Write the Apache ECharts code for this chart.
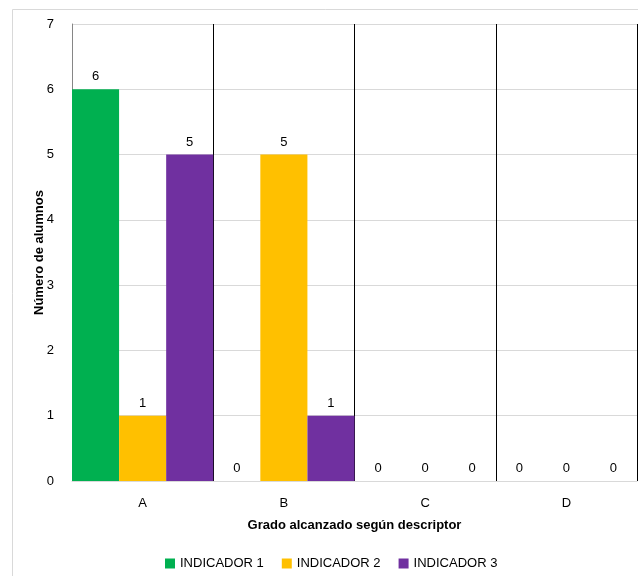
<!DOCTYPE html>
<html>
<head>
<meta charset="utf-8">
<script src="https://cdn.jsdelivr.net/npm/echarts@6/dist/echarts.min.js"></script>
<style>
  html, body { margin: 0; padding: 0; background: #ffffff; }
  #chart { width: 638px; height: 576px; }
</style>
</head>
<body>
<div id="chart"></div>
<script>
// Grado alcanzado por descriptor y número de alumnos por indicador
const categories = ['A', 'B', 'C', 'D'];
const indicador1 = [6, 0, 0, 0];
const indicador2 = [1, 5, 0, 0];
const indicador3 = [5, 1, 0, 0];
const seriesNames = ['INDICADOR 1', 'INDICADOR 2', 'INDICADOR 3'];
const seriesColors = ['#00b050', '#ffc000', '#7030a0'];
const yTicks = [0, 1, 2, 3, 4, 5, 6, 7];

const FONT = 'Liberation Sans';
const chart = echarts.init(document.getElementById('chart'));

const makeSeries = (name, data, color) => ({
  name: name,
  type: 'bar',
  data: data,
  barGap: '0%',
  barCategoryGap: '0%',
  itemStyle: { color: color },
  label: {
    show: true,
    position: 'top',
    distance: 6,
    color: '#000000',
    fontFamily: FONT,
    fontSize: 13
  }
});

chart.setOption({
  animation: false,
  backgroundColor: '#ffffff',
  textStyle: { fontFamily: FONT },
  graphic: [{
    type: 'rect',
    shape: { x: 12.5, y: 9.5, width: 700, height: 700 },
    style: { fill: 'none', stroke: '#d9d9d9', lineWidth: 1 },
    silent: true,
    z: -10
  }],
  grid: { left: 72, right: 1, top: 24, bottom: 95 },
  legend: {
    left: 160,
    top: 552,
    itemWidth: 10,
    itemHeight: 10,
    itemGap: 18,
    icon: 'rect',
    textStyle: { fontFamily: FONT, fontSize: 13, color: '#000000' },
    data: seriesNames
  },
  xAxis: {
    type: 'category',
    data: categories,
    name: 'Grado alcanzado según descriptor',
    nameLocation: 'middle',
    nameGap: 38,
    nameMoveOverlap: false,
    nameTextStyle: { fontFamily: FONT, fontSize: 13, fontWeight: 'bold', color: '#000000' },
    axisLine: { show: true, lineStyle: { color: '#d9d9d9', width: 1 } },
    axisTick: { show: false },
    axisLabel: { color: '#000000', fontFamily: FONT, fontSize: 13, margin: 16 },
    splitLine: {
      show: true,
      interval: function (idx) { return idx > 0; },
      lineStyle: { color: '#000000', width: 1 }
    }
  },
  yAxis: {
    type: 'value',
    min: yTicks[0],
    max: yTicks[yTicks.length - 1],
    interval: 1,
    name: 'Número de alumnos',
    nameLocation: 'middle',
    nameGap: 26,
    nameMoveOverlap: false,
    nameTextStyle: { fontFamily: FONT, fontSize: 13, fontWeight: 'bold', color: '#000000' },
    axisLine: { show: true, lineStyle: { color: '#868686', width: 1 } },
    axisTick: { show: false },
    axisLabel: { color: '#000000', fontFamily: FONT, fontSize: 13, margin: 18 },
    splitLine: { show: true, lineStyle: { color: '#d9d9d9', width: 1 } }
  },
  series: [
    makeSeries(seriesNames[0], indicador1, seriesColors[0]),
    makeSeries(seriesNames[1], indicador2, seriesColors[1]),
    makeSeries(seriesNames[2], indicador3, seriesColors[2])
  ]
});
</script>
</body>
</html>
